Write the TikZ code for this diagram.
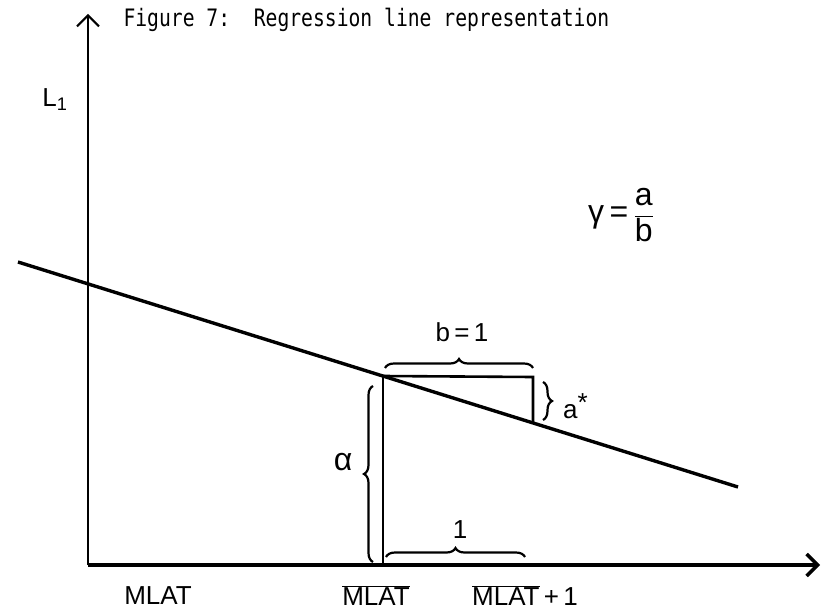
\documentclass[tikz,border=0pt]{standalone}
\usepackage{fontspec}
\setsansfont{Liberation Sans}
\setmonofont{DejaVu Sans Mono}
\usetikzlibrary{arrows.meta,decorations.pathreplacing}

\begin{document}
\begin{tikzpicture}[x=1pt,y=-1pt,
    >={Straight Barb[length=11pt,width=22pt]},
    axis/.style={line width=2pt},
    curve/.style={line width=3.4pt},
    helper/.style={line width=2.6pt},
    brc/.style={line width=2.2pt, decorate, decoration={brace, amplitude=9pt}},
    hand/.style={font=\sffamily\fontsize{26}{28}\selectfont, inner sep=0pt}]
    \useasboundingbox (0,0) rectangle (826,615);

    % Axes
    \coordinate (o) at (88,565);
    \coordinate (ytop) at (88,14);
    \coordinate (xend) at (820,565);
    \draw[axis,->] (o) -- (ytop);
    \draw[curve,->] (o) -- (xend);

    % Regression line
    \coordinate (ls) at (18,262);
    \coordinate (le) at (738,487);
    \draw[curve] (ls) -- (le);

    % Mean point and the unit step
    \coordinate (m) at (383,376);
    \coordinate (mb) at (383,565);
    \coordinate (m1) at (533,377);
    \coordinate (m1l) at (533,423);
    \draw[helper] (m) -- (mb);
    \draw[helper] (m) -- (m1) -- (m1l);

    % Braces
    \draw[brc] (385,368) -- (533,368);
    \draw[brc] (386,557) -- (525,557);
    \draw[brc] (373,562) -- (373,386);
    \draw[brc] (543,382) -- (543,420);

    % Labels
    \node[font=\ttfamily\fontsize{24}{26}\selectfont, anchor=west] (title) at (120,20) {\scalebox{0.82}[1]{Figure 7:\ \ Regression line representation}};
    \node[hand] (lone) at (55,100) {L\textsubscript{1}};
    \node[hand, anchor=west] (gam) at (588,215) {\fontsize{32}{34}\selectfont γ\,=\,$\displaystyle\frac{\hbox{a}}{\hbox{b}}$};
    \node[hand] (bone) at (462,332) {b\,=\,1};
    \node[hand, anchor=west] (astar) at (563,406) {a\raisebox{7pt}{*}};
    \node[hand] (alph) at (343,462) {\fontsize{32}{34}\selectfont α};
    \node[hand] (one) at (460,530) {1};
    \node[hand] (mlat) at (158,596) {MLAT};
    \node[hand] (mlatb) at (376,596) {$\overline{\hbox{MLAT}}$};
    \node[hand, anchor=west] (mlatbo) at (472,596) {$\overline{\hbox{MLAT}}$\,+\,1};
\end{tikzpicture}
\end{document}
